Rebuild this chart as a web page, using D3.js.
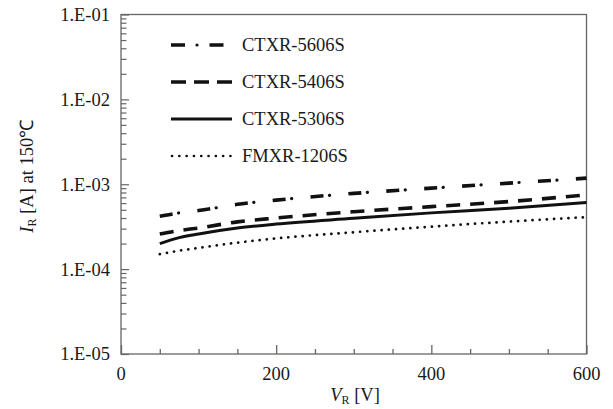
<!DOCTYPE html>
<html><head><meta charset="utf-8">
<script src="https://cdn.jsdelivr.net/npm/d3@7"></script>
<style>body{margin:0;background:#fff}svg{display:block}</style>
</head><body><svg id="c" width="613" height="409"></svg>
<script>
const voltages = [50, 75, 100, 150, 200, 300, 400, 500, 600];
const ctxr5606 = [4.2e-4, 4.6e-4, 4.9e-4, 5.8e-4, 6.5e-4, 7.8e-4, 9.0e-4, 1.03e-3, 1.18e-3];
const ctxr5406 = [2.6e-4, 2.85e-4, 3.05e-4, 3.6e-4, 4.0e-4, 4.75e-4, 5.45e-4, 6.25e-4, 7.5e-4];
const ctxr5306 = [2.0e-4, 2.35e-4, 2.6e-4, 3.05e-4, 3.4e-4, 3.97e-4, 4.6e-4, 5.2e-4, 6.1e-4];
const fmxr1206 = [1.5e-4, 1.65e-4, 1.78e-4, 2.05e-4, 2.3e-4, 2.72e-4, 3.17e-4, 3.63e-4, 4.1e-4];
const seriesNames = ["CTXR-5606S", "CTXR-5406S", "CTXR-5306S", "FMXR-1206S"];
const yTicks = [1e-5, 1e-4, 1e-3, 1e-2, 1e-1];
const yTickLabels = ["1.E-05", "1.E-04", "1.E-03", "1.E-02", "1.E-01"];
const xTicks = [0, 200, 400, 600];

const FONT = "'Liberation Serif', Tinos, 'Times New Roman', serif";
const svg = d3.select("#c");
const L = 121, R = 586.5, T = 14.5, B = 354;
const x = d3.scaleLinear().domain([0, 600]).range([L, R]);
const y = d3.scaleLog().domain([1e-5, 1e-1]).range([B, T]);
const axisColor = "#666";

function txt(sel) { return sel.attr("font-family", FONT).attr("fill", "#1a1a1a"); }

svg.append("rect").attr("x", L).attr("y", T).attr("width", R - L).attr("height", B - T)
  .attr("fill", "none").attr("stroke", axisColor).attr("stroke-width", 1.3);

const minorY = [];
for (let e = -5; e < -1; e++) for (let m = 2; m <= 9; m++) minorY.push(m * Math.pow(10, e));
const gy = svg.append("g").attr("transform", `translate(${L},0)`)
  .call(d3.axisRight(y).tickValues(yTicks).tickSize(8).tickFormat(""));
gy.append("g").call(d3.axisRight(y).tickValues(minorY).tickSize(5.5).tickFormat(""));
gy.selectAll(".domain").remove();
gy.selectAll("line").attr("stroke", axisColor).attr("stroke-width", 1.2);
txt(svg.append("g").selectAll("text").data(yTicks).join("text"))
  .attr("x", 110).attr("y", d => y(d)).attr("dy", "0.35em").attr("text-anchor", "end")
  .attr("font-size", 18.5).text((d, i) => yTickLabels[i]);

const gx = svg.append("g").attr("transform", `translate(0,${B})`);
gx.call(d3.axisTop(x).tickValues(xTicks).tickSize(9).tickFormat(""));
gx.append("g").call(d3.axisTop(x).tickValues(d3.range(50, 600, 50).filter(v => v % 200)).tickSize(5).tickFormat(""));
gx.selectAll(".domain").remove();
gx.selectAll("line").attr("stroke", axisColor).attr("stroke-width", 1.3);
txt(svg.append("g").selectAll("text").data(xTicks).join("text"))
  .attr("x", d => x(d)).attr("y", 380).attr("text-anchor", "middle")
  .attr("font-size", 18.5).text(d => d);

const xt = txt(svg.append("text")).attr("x", 355).attr("y", 401).attr("text-anchor", "middle").attr("font-size", 18.5);
xt.append("tspan").attr("font-style", "italic").text("V");
xt.append("tspan").attr("font-size", 12).attr("dy", 3).text("R");
xt.append("tspan").attr("dy", -3).text(" [V]");

const yt = txt(svg.append("text")).attr("transform", `translate(33,${(T + B) / 2 - 8}) rotate(-90)`)
  .attr("text-anchor", "middle").attr("font-size", 18.5);
yt.append("tspan").attr("font-style", "italic").text("I");
yt.append("tspan").attr("font-size", 12).attr("dy", 3).text("R");
yt.append("tspan").attr("dy", -3).text(" [A]  at 150℃");

const data = [ctxr5606, ctxr5406, ctxr5306, fmxr1206];
const styles = [
  [{dash: "13,25", w: 3.6, cap: "butt"}, {dash: "0.1,37.9", off: -19, w: 3.2, cap: "round"}],
  [{dash: "14,10", w: 3.6, cap: "butt"}],
  [{dash: null, w: 3, cap: "butt"}],
  [{dash: "0.1,7.1", w: 2.7, cap: "round"}]
];
const line = d3.line().x(d => x(d[0])).y(d => y(d[1])).curve(d3.curveMonotoneX);

data.forEach((vals, i) => {
  const pts = voltages.map((v, j) => [v, vals[j]]);
  styles[i].forEach(s => {
    const p = svg.append("path").attr("d", line(pts)).attr("fill", "none").attr("stroke", "#111")
      .attr("stroke-width", s.w).attr("stroke-linecap", s.cap);
    if (s.dash) p.attr("stroke-dasharray", s.dash);
    if (s.off) p.attr("stroke-dashoffset", s.off);
  });
});

const legY = [45, 82, 119, 156];
seriesNames.forEach((name, i) => {
  const yy = legY[i];
  const lx0 = 171, lx1 = 232;
  if (i === 0) {
    svg.append("path").attr("d", `M${lx0},${yy}H${lx1}`).attr("stroke", "#111").attr("stroke-width", 3.6)
      .attr("stroke-dasharray", "14,24.5").attr("fill", "none");
    svg.append("circle").attr("cx", lx0 + 26).attr("cy", yy).attr("r", 1.6).attr("fill", "#111");
  } else if (i === 1) {
    svg.append("path").attr("d", `M${lx0},${yy}H${lx1}`).attr("stroke", "#111").attr("stroke-width", 3.6)
      .attr("stroke-dasharray", "15,8").attr("fill", "none");
  } else if (i === 2) {
    svg.append("path").attr("d", `M${lx0},${yy}H${lx1}`).attr("stroke", "#111").attr("stroke-width", 3.2).attr("fill", "none");
  } else {
    svg.append("path").attr("d", `M${lx0 + 1},${yy}H${lx1}`).attr("stroke", "#111").attr("stroke-width", 2.6)
      .attr("stroke-linecap", "round").attr("stroke-dasharray", "0.1,7.2").attr("fill", "none");
  }
  txt(svg.append("text")).attr("x", 242).attr("y", yy).attr("dy", "0.35em").attr("font-size", 18.5).text(name);
});
</script></body></html>
